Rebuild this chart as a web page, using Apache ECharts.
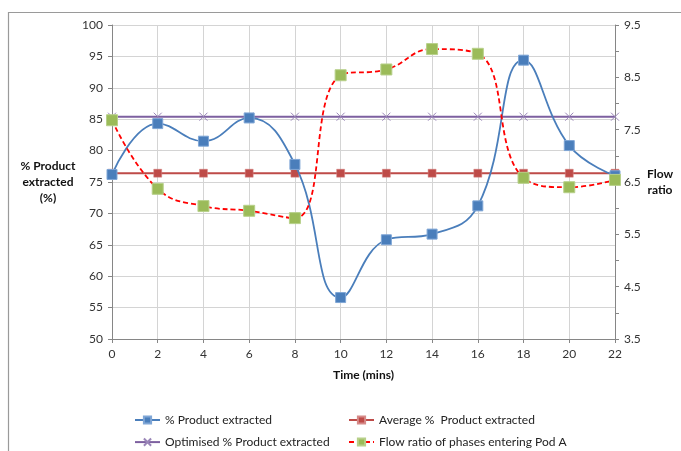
<!DOCTYPE html>
<html>
<head>
<meta charset="utf-8">
<script src="https://cdn.jsdelivr.net/npm/echarts@6/dist/echarts.min.js"></script>
<style>html,body{margin:0;padding:0;background:#fff}#c{width:681px;height:451px}</style>
</head>
<body>
<div id="c"></div>
<script>
const times = [0, 2, 4, 6, 8, 10, 12, 14, 16, 18, 20, 22];
const productExtracted = [76.2, 84.3, 81.5, 85.2, 77.8, 56.6, 65.8, 66.7, 71.2, 94.4, 80.8, 76.0];
const averageExtracted = [76.4, 76.4, 76.4, 76.4, 76.4, 76.4, 76.4, 76.4, 76.4, 76.4, 76.4, 76.4];
const optimisedExtracted = [85.4, 85.4, 85.4, 85.4, 85.4, 85.4, 85.4, 85.4, 85.4, 85.4, 85.4, 85.4];
const flowRatio = [7.68, 6.37, 6.04, 5.95, 5.81, 8.54, 8.65, 9.04, 8.95, 6.58, 6.40, 6.54];
const seriesNames = ['% Product extracted', 'Average %  Product extracted', 'Optimised % Product extracted', 'Flow ratio of phases entering Pod A'];

const pair = arr => times.map((t, i) => [t, arr[i]]);
const FONT = 'Lato, "Open Sans", sans-serif';
const chart = echarts.init(document.getElementById('c'), null, {renderer: 'canvas'});
const legendText = {fontFamily: FONT, fontSize: 12, color: '#222'};
chart.setOption({
  animation: false,
  backgroundColor: '#fff',
  graphic: [{
    type: 'rect', shape: {x: 8.5, y: 12.5, width: 700, height: 460},
    style: {fill: 'none', stroke: '#9a9a9a', lineWidth: 1.2}, z: -1
  }],
  grid: {left: 112, right: 66, top: 25, bottom: 112, containLabel: false},
  legend: [
    {data: [seriesNames[0]], left: 129, top: 409, itemWidth: 25, itemHeight: 9, textStyle: legendText},
    {data: [seriesNames[1]], left: 343, top: 409, itemWidth: 25, itemHeight: 9, textStyle: legendText},
    {data: [seriesNames[2]], left: 129, top: 431, itemWidth: 25, itemHeight: 9, textStyle: legendText},
    {data: [seriesNames[3]], left: 343, top: 431, itemWidth: 25, itemHeight: 9, textStyle: legendText}
  ],
  xAxis: {
    type: 'value', min: 0, max: 22, interval: 2,
    name: 'Time (mins)', nameLocation: 'middle', nameGap: 30,
    nameTextStyle: {fontFamily: FONT, fontSize: 12, fontWeight: 'bold', color: '#111'},
    axisLine: {lineStyle: {color: '#868686'}},
    axisTick: {show: true, length: 4, lineStyle: {color: '#868686'}},
    axisLabel: {fontFamily: FONT, fontSize: 12, color: '#333', margin: 9},
    splitLine: {show: true, lineStyle: {color: '#d4d4d4'}}
  },
  yAxis: [{
    type: 'value', min: 50, max: 100, interval: 5,
    name: '% Product\nextracted\n(%)', nameLocation: 'middle', nameGap: 64, nameRotate: 0,
    nameTextStyle: {fontFamily: FONT, fontSize: 12, fontWeight: 'bold', color: '#111', lineHeight: 16, align: 'center'},
    axisLine: {show: true, lineStyle: {color: '#868686'}},
    axisTick: {show: true, length: 4, lineStyle: {color: '#868686'}},
    axisLabel: {fontFamily: FONT, fontSize: 12, color: '#333', margin: 9},
    splitLine: {show: true, lineStyle: {color: '#d4d4d4'}}
  }, {
    type: 'value', min: 3.5, max: 9.5, interval: 0.5, position: 'right',
    name: 'Flow\nratio', nameLocation: 'middle', nameGap: 45, nameRotate: 0,
    nameTextStyle: {fontFamily: FONT, fontSize: 12, fontWeight: 'bold', color: '#111', lineHeight: 16, align: 'center', padding: [22, 0, 0, 0]},
    axisLine: {show: true, lineStyle: {color: '#868686'}},
    axisTick: {show: true, length: 4, lineStyle: {color: '#868686'}},
    axisLabel: {fontFamily: FONT, fontSize: 12, color: '#333', margin: 9,
      formatter: v => (Math.abs(((v - 3.5) % 1)) < 1e-6 ? v.toFixed(1) : '')},
    splitLine: {show: false}
  }],
  series: [{
    name: seriesNames[0], type: 'line', yAxisIndex: 0, data: pair(productExtracted),
    smooth: 0.45, symbol: 'rect', symbolSize: 10, z: 4,
    lineStyle: {color: '#4a7ebb', width: 1.8},
    itemStyle: {color: '#4a7ebb', borderColor: '#7fa6d6', borderWidth: 1}
  }, {
    name: seriesNames[1], type: 'line', yAxisIndex: 0, data: pair(averageExtracted),
    symbol: 'rect', symbolSize: 8, z: 3,
    lineStyle: {color: '#be4b48', width: 2},
    itemStyle: {color: '#be4b48', borderColor: '#d68a88', borderWidth: 0.5}
  }, {
    name: seriesNames[2], type: 'line', yAxisIndex: 0, data: pair(optimisedExtracted),
    symbol: 'path://M0,0L10,10M10,0L0,10', symbolSize: 8, z: 3,
    lineStyle: {color: '#7d60a0', width: 2},
    itemStyle: {color: 'none', borderColor: '#9a86b8', borderWidth: 1}
  }, {
    name: seriesNames[3], type: 'line', yAxisIndex: 1, data: pair(flowRatio),
    smooth: 0.45, symbol: 'rect', symbolSize: 11, z: 5,
    lineStyle: {color: '#ff0000', width: 1.8, type: [5, 3]},
    itemStyle: {color: '#9bbb59', borderColor: '#b7d08a', borderWidth: 1}
  }]
});
</script>
</body>
</html>
